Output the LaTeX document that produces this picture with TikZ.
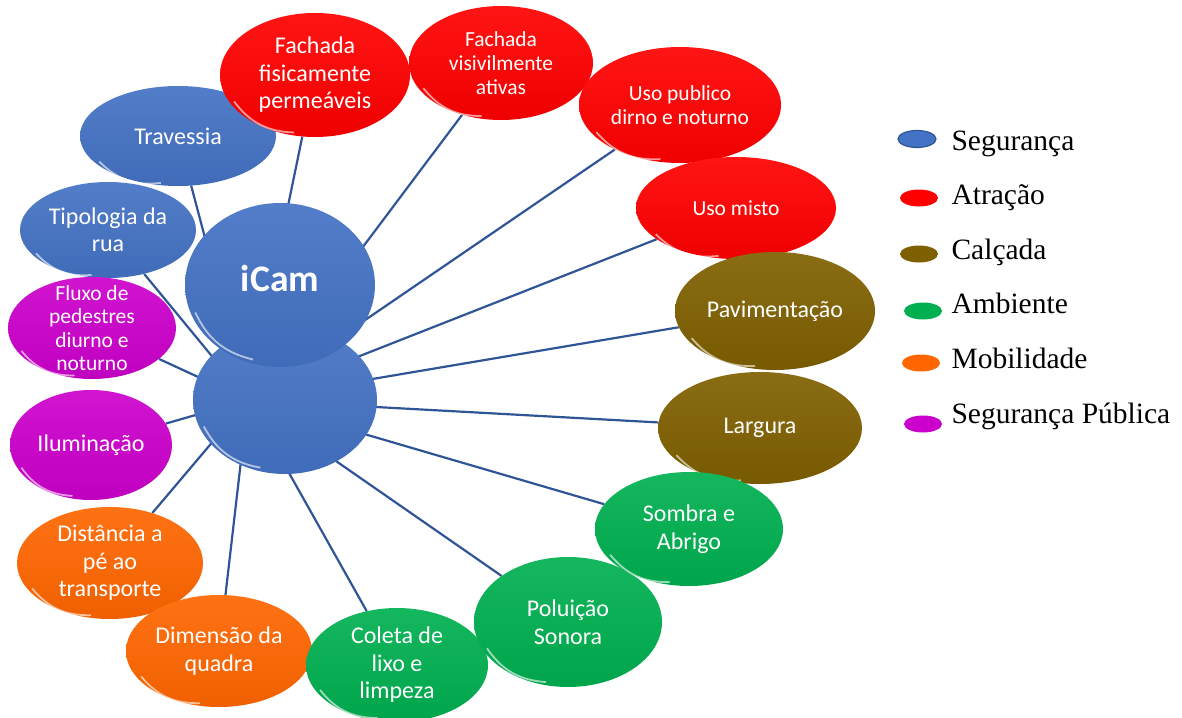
\documentclass[tikz,border=0pt]{standalone}
\usepackage{fontspec}
\setmainfont{Liberation Serif}
\newfontfamily\calib{Carlito}
\usetikzlibrary{shapes.geometric,backgrounds,calc}
\definecolor{seg}{HTML}{4472C4}
\definecolor{atr}{HTML}{FF0000}
\definecolor{cal}{HTML}{7F6000}
\definecolor{amb}{HTML}{00B050}
\definecolor{mob}{HTML}{FF6600}
\definecolor{pub}{HTML}{CC00CC}
\definecolor{wirecol}{HTML}{2F5597}
\tikzset{
  bubble/.style={ellipse, top color=#1!92!white, bottom color=#1!94!black,
    text=white, align=center, inner xsep=-5pt, inner ysep=-15pt,
    font=\calib\fontsize{24}{27.5}\selectfont,
    append after command={($(\tikzlastnode.198)!.05!(\tikzlastnode.center)$)
      edge[gloss] ($(\tikzlastnode.250)!.05!(\tikzlastnode.center)$)}},
  gloss/.style={white, opacity=.6, line width=1.8pt, bend right=26},
  dims/.style 2 args={minimum width=#1pt, minimum height=#2pt},
  smalltxt/.style={font=\calib\fontsize{21.5}{24}\selectfont},
  wire/.style={wirecol, line width=2.2pt},
  legmark/.style={ellipse, minimum width=38pt, minimum height=17pt, inner sep=0pt},
  legtext/.style={anchor=base west, font=\fontsize{29.5}{33}\selectfont}
}
\begin{document}
\begin{tikzpicture}[x=1pt,y=-1pt]
\useasboundingbox (0,0) rectangle (1182,717);
\coordinate (core) at (248,400);
\node[bubble=seg, dims={196}{100}] (tra) at (178,136) {Travessia};
\node[bubble=seg, dims={176}{96}] (tip) at (108,230) {Tipologia da\\rua};
\node[bubble=pub, dims={168}{102}, font=\calib\fontsize{21.5}{23.3}\selectfont] (flu) at (92,328) {Fluxo de\\pedestres\\diurno e\\noturno};
\node[bubble=pub, dims={162}{110}] (ilu) at (91,445) {Iluminação};
\node[bubble=mob, dims={186}{112}] (dis) at (110,563) {Distância a\\pé ao\\transporte};
\node[bubble=mob, dims={186}{112}] (dim) at (219,651) {Dimensão da\\quadra};
\node[bubble=amb, dims={182}{114}] (col) at (397,665) {Coleta de\\lixo e\\limpeza};
\node[bubble=amb, dims={188}{130}] (pol) at (568,622) {Poluição\\Sonora};
\node[bubble=atr, dims={184}{114}, smalltxt] (vis) at (501,63) {Fachada\\visivilmente\\ativas};
\node[bubble=atr, dims={190}{124}] (fis) at (315,75) {Fachada\\fisicamente\\permeáveis};
\node[bubble=atr, dims={202}{116}, smalltxt] (pub) at (680,105) {Uso publico\\dirno e noturno};
\node[bubble=atr, dims={200}{102}, smalltxt] (mis) at (736,208) {Uso misto};
\node[bubble=cal, dims={200}{118}] (pav) at (775,311) {Pavimentação};
\node[bubble=cal, dims={204}{112}] (lar) at (760,428) {Largura};
\node[bubble=amb, dims={188}{114}] (som) at (689,529) {Sombra e\\Abrigo};
\node[bubble=seg, dims={184}{148}] (hubb) at (285,400) {};
\node[bubble=seg, dims={190}{164}, font=\calib\bfseries\fontsize{37.5}{40}\selectfont] (hubt) at (280,285) {\raisebox{13pt}{iCam}};
\begin{scope}[on background layer]
\foreach \n in {tra,tip,flu,ilu,dis,dim,col,pol,som,lar,pav,mis,pub,vis,fis}
  \draw[wire] (core) -- (\n);
\end{scope}
\foreach \c/\d/\mx/\my/\t [count=\i] in {seg/wirecol/917/139/Segurança, atr/none/919/198/Atração,
    cal/none/919/254/Calçada, amb/none/923/311/Ambiente, mob/none/921/363/Mobilidade,
    pub/none/923/424/Segurança Pública}{
  \node[legmark, fill=\c, draw=\d, line width=1.2pt] (mk\i) at (\mx,\my) {};
  \node[legtext] (lg\i) at (948,{150+54.6*(\i-1)}) {\t};
}
\end{tikzpicture}
\end{document}
